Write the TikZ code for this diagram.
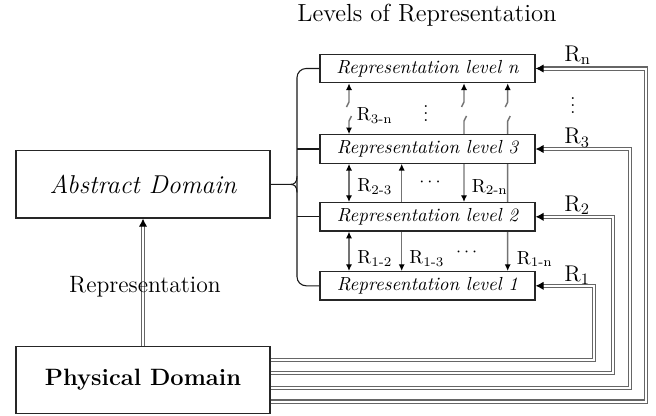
\documentclass[tikz,border=0pt]{standalone}
\usetikzlibrary{arrows.meta,calc}
\pgfdeclarelayer{bg}
\pgfsetlayers{bg,main}
\tikzset{
  lvbox/.style={draw=black!85, line width=0.65pt, fill=white, minimum width=118.2pt,
    minimum height=15.6pt, inner sep=0pt, font=\fontsize{10.4}{12}\selectfont\itshape},
  dombox/.style={draw=black!85, line width=0.65pt, fill=white, minimum width=139.7pt,
    minimum height=37pt, inner sep=0pt},
  vline/.style={draw=black!55, line width=0.8pt},
  dbl/.style={draw=black!60, double=white, double distance=1.1pt, line width=0.6pt},
  dtip/.style={{Latex[black,length=4.4pt,width=4.6pt]}-},
  brace/.style={draw=black!90, line width=0.6pt},
  rlab/.style={anchor=west, inner sep=0pt, font=\fontsize{10.4}{12}\selectfont},
  Rlab/.style={anchor=west, inner sep=0pt, font=\fontsize{12.5}{14}\selectfont},
  big/.style={font=\fontsize{13}{15}\selectfont},
}
\begin{document}
\begin{tikzpicture}[x=0.55pt,y=-0.55pt, >={Latex[black,length=3.7pt,width=3.4pt]}]
\useasboundingbox (0,0) rectangle (656,415);

% boxes
\node[font=\fontsize{13.6}{15}\selectfont] (title) at (427,15) {Levels of Representation};
\node[lvbox] (lvn) at (427.5,68.5) {Representation level n};
\node[lvbox] (lv3) at (427.5,149) {Representation level 3};
\node[lvbox] (lv2) at (427.5,216.8) {Representation level 2};
\node[lvbox] (lv1) at (427.5,285.8) {Representation level 1};
\node[dombox, font=\fontsize{14.2}{16}\selectfont\itshape] (abs) at (143,184.4) {Abstract Domain};
\node[dombox, font=\fontsize{13}{15}\selectfont\bfseries] (phy) at (143,380) {Physical Domain};

% helper coordinates
\coordinate (xa) at (349,0);
\coordinate (xb) at (401.7,0);
\coordinate (xc) at (464,0);
\coordinate (xd) at (507.7,0);
\coordinate (bk1) at (0,102);
\coordinate (bk2) at (0,121);
\coordinate (bt) at (290.5,184.4);
\coordinate (bs) at (297,0);
\coordinate (c1) at (594.3,360);
\coordinate (c2) at (612.7,373.3);
\coordinate (c3) at (630,388.3);
\coordinate (cn) at (646,401.5);

% brace from the abstract domain to the levels
\draw[brace, rounded corners=5] (lvn.west) -| (bs|-lv1.west) -- (lv1.west);
\draw[brace] (abs.east) -- (bt)
  .. controls ($(bt)+(4,0)$) and ($(bs|-bt)+(0,-2)$) .. ($(bs|-bt)+(0,-8)$);
\draw[brace] (bt)
  .. controls ($(bt)+(4,0)$) and ($(bs|-bt)+(0,2)$) .. ($(bs|-bt)+(0,8)$);
\draw[brace] (bs|-lv3.west) -- (lv3.west);
\draw[brace] (bs|-lv2.west) -- (lv2.west);

% relations between levels (behind the boxes)
\begin{pgfonlayer}{bg}
\draw[vline,<-] (xa|-lvn.south) -- (xa|-bk1) -- ++(-2.5,5);
\draw[vline,<-] (xa|-lv3.north) -- (xa|-bk2) -- ++(2.5,-5);
\draw[vline,->] ($(xc|-bk1)+(-2.5,5)$) -- (xc|-bk1) -- (xc|-lvn.south);
\draw[vline,->] ($(xc|-bk2)+(2.5,-5)$) -- (xc|-bk2) -- (xc|-lv2.north);
\draw[vline,->] ($(xd|-bk1)+(-2.5,5)$) -- (xd|-bk1) -- (xd|-lvn.south);
\draw[vline,->] ($(xd|-bk2)+(2.5,-5)$) -- (xd|-bk2) -- (xd|-lv1.north);
\draw[vline,<->] (xb|-lv3.south) -- (xb|-lv1.north);
\draw[vline,<->] (xa|-lv3.south) -- (xa|-lv2.north);
\draw[vline,<->] (xa|-lv2.south) -- (xa|-lv1.north);
\end{pgfonlayer}

% physical domain to abstract domain
\draw[dbl,-{Latex[black,length=4.4pt,width=4.6pt]}] (phy.north) -- (abs.south);
\node[big] (replab) at (145,287) {Representation};

% physical domain to each level
\draw[dbl,dtip] (lv1.east) -| (c1) -- (phy.east|-c1);
\draw[dbl,dtip] (lv2.east) -| (c2) -- (phy.east|-c2);
\draw[dbl,dtip] (lv3.east) -| (c3) -- (phy.east|-c3);
\draw[dbl,dtip] (lvn.east) -| (cn) -- (phy.east|-cn);

% labels
\node[rlab] (l3n) at (356.5,116) {R\textsubscript{3-n}};
\node[rlab] (l23) at (357,187) {R\textsubscript{2-3}};
\node[inner sep=0pt] (d1) at (430,182) {$\cdots$};
\node[rlab] (l2n) at (471.5,187) {R\textsubscript{2-n}};
\node[rlab] (l12) at (357,258.5) {R\textsubscript{1-2}};
\node[rlab] (l13) at (409,258.5) {R\textsubscript{1-3}};
\node[inner sep=0pt] (d2) at (466.7,252) {$\cdots$};
\node[rlab] (l1n) at (516.5,259) {R\textsubscript{1-n}};
\node[inner sep=0pt] (vd1) at (426,108) {$\vdots$};
\node[inner sep=0pt] (vd2) at (573,100) {$\vdots$};
\node[Rlab] (rn) at (564,55) {R\textsubscript{n}};
\node[Rlab] (r3) at (564,138) {R\textsubscript{3}};
\node[Rlab] (r2) at (564,205) {R\textsubscript{2}};
\node[Rlab] (r1) at (564,275) {R\textsubscript{1}};
\end{tikzpicture}
\end{document}
